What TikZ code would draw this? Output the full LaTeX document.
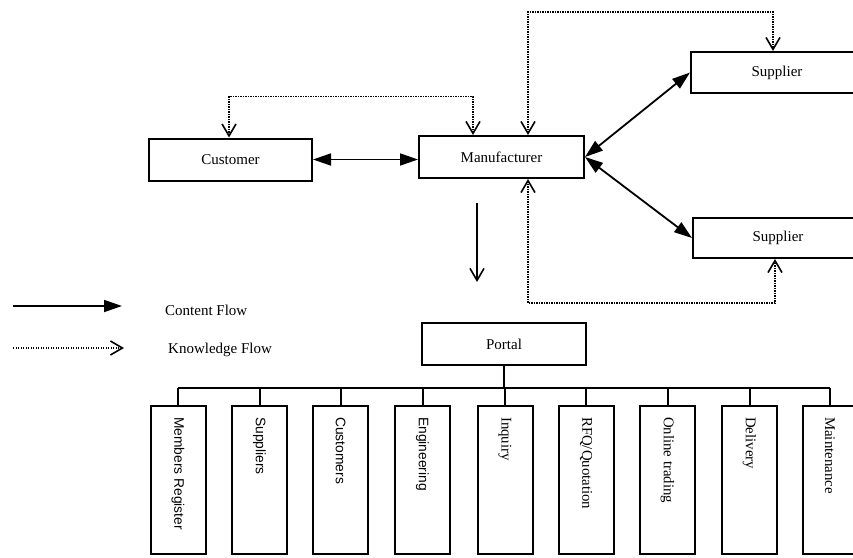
\documentclass[tikz,border=0pt]{standalone}
\usepackage{fontspec}
\setmainfont{Liberation Serif}
\newfontfamily\labelsans{Liberation Sans}
\usetikzlibrary{arrows.meta}

\tikzset{
  barbtip/.tip={Straight Barb[length=12pt,width=14pt,line width=1.6pt]},
  solidtip/.tip={Triangle[length=18pt,width=12pt]},
  unit/.style={draw, line width=2pt, inner sep=0pt, font=\fontsize{15}{18}\selectfont},
  wide/.style={unit, minimum width=#1, minimum height=42pt},
  column/.style={draw, line width=2pt, inner sep=0pt, minimum width=55pt, minimum height=148pt},
  vlabel/.style={rotate=-90, anchor=west, inner sep=0pt, font=\fontsize{14.8}{17}\selectfont},
  vlabelsans/.style={vlabel, font=\labelsans\fontsize{13.8}{16}\selectfont},
  content/.style={line width=1.8pt},
  both/.style={content, solidtip-solidtip},
  know/.style={line width=1.4pt, dash pattern=on 1.3pt off 1.2pt},
  tree/.style={line width=2pt},
  legendtext/.style={anchor=west, inner sep=0pt, font=\fontsize{15}{18}\selectfont}
}

\begin{document}
\begin{tikzpicture}[x=1pt, y=-1pt]
\useasboundingbox (0,0) rectangle (853,557);

% main actors
\node[wide=163pt] (cust) at (230.5,159.5) {Customer};
\node[wide=165pt] (man)  at (501.5,157)   {Manufacturer};
\node[wide=172pt, minimum height=41pt] (sup1) at (777,72.5)  {Supplier};
\node[wide=170pt, minimum height=40pt] (sup2) at (778,238)   {Supplier};
\node[wide=164pt] (portal) at (504,344) {Portal};

% content flows between actors
\draw[both] (cust.east) -- (cust.east -| man.west);
\draw[both] (man.east) -- (sup1.west);
\draw[both] (man.east) -- (sup2.west);

% content flow down to the portal
\coordinate (cf1) at (477,203);
\coordinate (cf2) at (477,282);
\draw[content, -barbtip] (cf1) -- (cf2);

% knowledge flows
\draw[know, barbtip-barbtip] ([xshift=-1.5pt]cust.north) -- ++(0,-41) -| ([xshift=-28.5pt]man.north);
\draw[know, barbtip-barbtip] ([xshift=26.5pt]man.north) -- ++(0,-123) -| ([xshift=-4pt]sup1.north);
\draw[know, barbtip-barbtip] ([xshift=26.5pt]man.south) -- ++(0,124) -| ([xshift=-3pt]sup2.south);

% legend
\coordinate (lc1) at (13,306);
\coordinate (lc2) at (122,306);
\draw[content, -solidtip] (lc1) -- (lc2);
\node[legendtext] (lct) at (165,310) {Content Flow};
\coordinate (lk1) at (13,348);
\coordinate (lk2) at (124,348);
\draw[know, -barbtip] (lk1) -- (lk2);
\node[legendtext] (lkt) at (168,350) {Knowledge Flow};

% portal modules
\node[column] (m1) at (178,480)   {};
\node[column] (m2) at (259.5,480) {};
\node[column] (m3) at (340.5,480) {};
\node[column] (m4) at (422.5,480) {};
\node[column] (m5) at (505,480)   {};
\node[column] (m6) at (586,480)   {};
\node[column] (m7) at (667.5,480) {};
\node[column] (m8) at (749.5,480) {};
\node[column] (m9) at (830,480)   {};

\node[vlabelsans] (t1) at ([yshift=-12pt]m1.north) {Members Register};
\node[vlabelsans] (t2) at ([yshift=-12pt]m2.north) {Suppliers};
\node[vlabelsans] (t3) at ([yshift=-12pt]m3.north) {Customers};
\node[vlabelsans] (t4) at ([yshift=-12pt]m4.north) {Engineering};
\node[vlabel] (t5) at ([yshift=-12pt]m5.north) {Inquiry};
\node[vlabel] (t6) at ([yshift=-12pt]m6.north) {RFQ/Quotation};
\node[vlabel] (t7) at ([yshift=-12pt]m7.north) {Online trading};
\node[vlabel] (t8) at ([yshift=-12pt]m8.north) {Delivery};
\node[vlabel] (t9) at ([yshift=-12pt]m9.north) {Maintenance};

% tree from the portal to its modules
\draw[tree] (portal.south) -- ++(0,22) coordinate (bus);
\draw[tree] (m1.north |- bus) -- (m9.north |- bus);
\foreach \m in {m1,m2,m3,m4,m5,m6,m7,m8,m9}
  \draw[tree] (\m.north) -- (\m.north |- bus);
\end{tikzpicture}
\end{document}
